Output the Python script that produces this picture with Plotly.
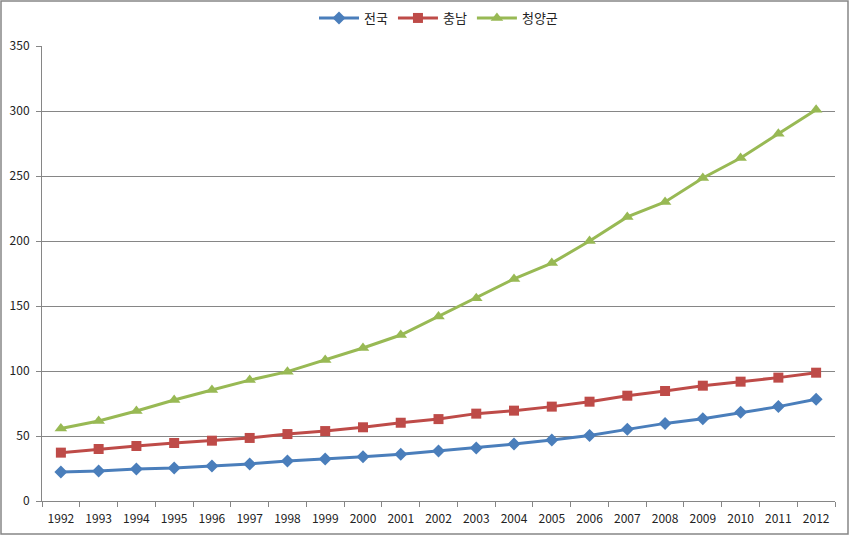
import plotly.graph_objects as go

years = [str(y) for y in range(1992, 2013)]

# 전국 (nationwide)
nation = [22.3, 23.0, 24.6, 25.4, 27.0, 28.5, 30.8, 32.3, 34.0, 36.0, 38.5,
          40.8, 43.8, 47.0, 50.4, 55.1, 59.7, 63.3, 68.2, 72.6, 78.2]
# 충남 (Chungnam)
chungnam = [37.2, 40.0, 42.3, 44.6, 46.4, 48.5, 51.5, 53.8, 56.7, 60.2, 63.0,
            67.2, 69.5, 72.6, 76.4, 81.0, 84.6, 88.7, 91.8, 94.9, 98.7]
# 청양군 (Cheongyang-gun)
cheongyang = [55.8, 61.5, 69.2, 77.7, 85.4, 93.0, 99.5, 108.5, 117.7, 127.7, 142.0,
              156.0, 170.8, 183.0, 200.0, 218.5, 230.0, 248.5, 263.8, 282.5, 301.0]

series = [
    ("전국", nation, "#4A7EBB", "diamond", 10),
    ("충남", chungnam, "#BE4B48", "square", 10),
    ("청양군", cheongyang, "#98B954", "triangle-up", 11),
]

FONT = "Noto Sans CJK KR"
GRID = "#868686"

fig = go.Figure()
for name, vals, color, symbol, size in series:
    fig.add_trace(go.Scatter(
        x=years, y=vals, name=name,
        mode="lines+markers",
        line=dict(color=color, width=3),
        marker=dict(symbol=symbol, size=size, color=color),
    ))

W, H = 850, 536
L, R, T, B = 42, 15, 46, 35
pw, ph = W - L - R, H - T - B

fig.update_layout(
    width=W, height=H,
    margin=dict(l=L, r=R, t=T, b=B, autoexpand=False),
    plot_bgcolor="white",
    paper_bgcolor="white",
    font=dict(family=FONT, size=12, color="#222222"),
    legend=dict(
        orientation="h", x=0.5, xanchor="center", y=1 + 28 / ph, yanchor="middle",
        font=dict(family=FONT, size=13, color="#222222"),
        itemwidth=40,
    ),
    xaxis=dict(
        type="category",
        range=[-0.5, len(years) - 0.5],
        showline=True, linecolor=GRID, linewidth=1,
        ticks="outside", ticklen=5, tickcolor=GRID,
        tickson="boundaries",
        tickangle=0,
        ticklabelstandoff=7,
        showgrid=False,
        tickfont=dict(size=12),
    ),
    yaxis=dict(
        range=[0, 350], dtick=50,
        showline=True, linecolor=GRID, linewidth=1,
        ticks="outside", ticklen=5, tickcolor=GRID,
        ticklabelstandoff=4,
        showgrid=True, gridcolor=GRID, gridwidth=1,
        zeroline=False,
        tickfont=dict(size=12),
    ),
    shapes=[dict(
        type="rect", xref="paper", yref="paper",
        x0=-(L - 1) / pw, x1=1 + (R - 2) / pw,
        y0=-(B - 2) / ph, y1=1 + (T - 1) / ph,
        line=dict(color="#868686", width=1.5),
    )],
)

# drop the browser's default body margin so the chart sits at the page corner
fig.write_html("out.html", config={"displayModeBar": False},
               post_script="document.body.style.margin='0';")
